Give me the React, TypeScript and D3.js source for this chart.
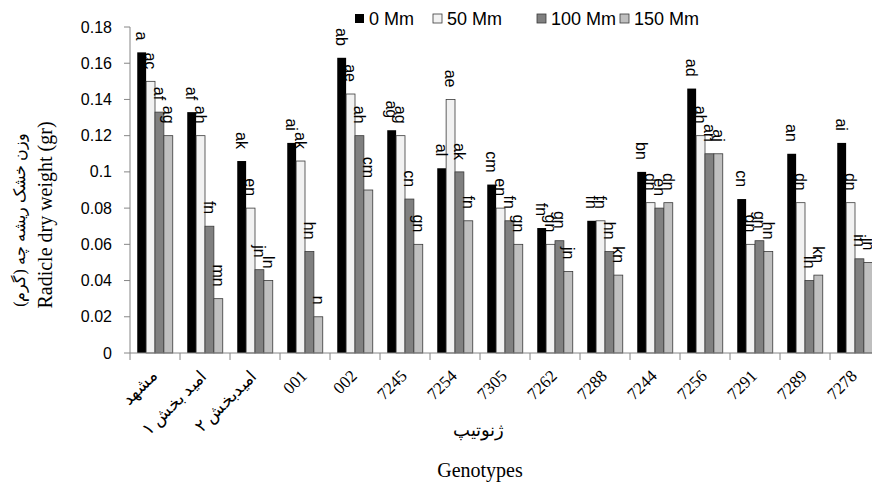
import React, { useEffect, useRef } from 'react';
import * as d3 from 'd3';

// genotypes on the x axis (left to right)
const genotypes = ['مشهد', 'امید بخش ۱', 'امیدبخش ۲', '001', '002', '7245', '7254', '7305', '7262', '7288', '7244', '7256', '7291', '7289', '7278'];
const seriesNames = ['0 Mm', '50 Mm', '100 Mm', '150 Mm'];

// radicle dry weight (gr), one array per salt level
const mm0 = [0.166, 0.133, 0.106, 0.116, 0.163, 0.123, 0.102, 0.093, 0.069, 0.073, 0.100, 0.146, 0.085, 0.110, 0.116];
const mm50 = [0.150, 0.120, 0.080, 0.106, 0.143, 0.120, 0.140, 0.080, 0.060, 0.073, 0.083, 0.120, 0.060, 0.083, 0.083];
const mm100 = [0.133, 0.070, 0.046, 0.056, 0.120, 0.085, 0.100, 0.073, 0.062, 0.056, 0.080, 0.110, 0.062, 0.040, 0.052];
const mm150 = [0.120, 0.030, 0.040, 0.020, 0.090, 0.060, 0.073, 0.060, 0.045, 0.043, 0.083, 0.110, 0.056, 0.043, 0.050];

// mean comparison letters
const let0 = ['a', 'af', 'ak', 'ai', 'ab', 'ag', 'al', 'cm', 'fn', 'fn', 'bn', 'ad', 'cn', 'an', 'ai'];
const let50 = ['ac', 'ah', 'en', 'ak', 'ae', 'ag', 'ae', 'en', 'gn', 'fn', 'dn', 'ah', 'gn', 'dn', 'dn'];
const let100 = ['af', 'fn', 'jn', 'hn', 'ah', 'cn', 'ak', 'fn', 'gn', 'hn', 'en', 'an', 'gn', 'ln', 'in'];
const let150 = ['ag', 'mn', 'ln', 'n', 'cm', 'gn', 'fn', 'gn', 'jn', 'kn', 'dn', 'aj', 'hn', 'kn', 'jn'];

const yTicks = [0, 0.02, 0.04, 0.06, 0.08, 0.1, 0.12, 0.14, 0.16, 0.18];
const yTickLabels = ['0', '0.02', '0.04', '0.06', '0.08', '0.1', '0.12', '0.14', '0.16', '0.18'];

const fills = ['#000000', '#f2f2f2', '#808080', '#bfbfbf'];
const W = 872, H = 483;
const sans = '"Liberation Sans", Arial, sans-serif';
const serif = '"Liberation Serif", "Times New Roman", serif';

export default function App() {
    const ref = useRef<SVGSVGElement>(null);

    useEffect(() => {
        const svg = d3.select(ref.current);
        svg.selectAll('*').remove();

        const values = [mm0, mm50, mm100, mm150];
        const letters = [let0, let50, let100, let150];

        // plot runs past the right edge, like the original (last group is cut off)
        const x = d3.scaleBand().domain(genotypes).range([130, 880]).paddingInner(0.29).paddingOuter(0.145);
        const xs = d3.scaleBand().domain(seriesNames).range([0, x.bandwidth()]);
        const y = d3.scaleLinear().domain([0, 0.18]).range([353, 27]);

        const axisColor = '#868686';

        // y axis
        svg.append('line').attr('x1', 130).attr('x2', 130).attr('y1', y(0.18)).attr('y2', y(0))
            .attr('stroke', axisColor);
        yTicks.forEach((t, i) => {
            svg.append('line').attr('x1', 124).attr('x2', 130).attr('y1', y(t)).attr('y2', y(t)).attr('stroke', axisColor);
            svg.append('text').attr('x', 112).attr('y', y(t)).attr('dy', '0.35em')
                .attr('text-anchor', 'end').style('font-family', sans).style('font-size', '16px')
                .attr('fill', '#000').text(yTickLabels[i]);
        });

        // bars
        genotypes.forEach((g, gi) => {
            const grp = svg.append('g').attr('transform', `translate(${x(g)},0)`);
            seriesNames.forEach((s, si) => {
                const v = values[si][gi];
                grp.append('rect')
                    .attr('x', xs(s)!).attr('width', xs.bandwidth())
                    .attr('y', y(v)).attr('height', y(0) - y(v))
                    .attr('fill', fills[si])
                    .attr('stroke', si === 0 ? 'none' : '#3a3a3a')
                    .attr('stroke-width', 0.8);
            });
            seriesNames.forEach((s, si) => {
                const v = values[si][gi];
                const cx = xs(s)! + xs.bandwidth() / 2;
                const ty = y(v) - 12;
                grp.append('text')
                    .attr('transform', `translate(${cx},${ty}) rotate(90)`)
                    .attr('text-anchor', 'end').attr('dy', '0.35em')
                    .style('font-family', sans).style('font-size', '16px')
                    .text(letters[si][gi]);
            });
        });

        // x axis
        svg.append('line').attr('x1', 130).attr('x2', W).attr('y1', y(0)).attr('y2', y(0)).attr('stroke', axisColor);
        genotypes.forEach((g) => {
            const bx = x(g)! - x.step() * x.paddingInner() / 2;
            svg.append('line').attr('x1', bx).attr('x2', bx).attr('y1', y(0)).attr('y2', y(0) + 7).attr('stroke', axisColor);
            const cx = x(g)! + x.bandwidth() / 2;
            svg.append('text')
                .attr('transform', `translate(${cx + 3},377) rotate(-45)`)
                .attr('text-anchor', 'end')
                .style('font-family', serif).style('font-size', '17px')
                .text(g);
        });

        // axis titles
        svg.append('text').attr('transform', 'translate(52,215) rotate(-90)')
            .attr('text-anchor', 'middle').style('font-family', serif).style('font-size', '20px')
            .text('Radicle dry weight (gr)');
        svg.append('text').attr('transform', 'translate(25,220) rotate(-90)')
            .attr('text-anchor', 'middle').style('font-family', serif).style('font-size', '16px')
            .text('وزن خشک ریشه چه (گرم)');
        svg.append('text').attr('x', 478).attr('y', 436)
            .attr('text-anchor', 'middle').style('font-family', serif).style('font-size', '18px')
            .text('ژنوتیپ');
        svg.append('text').attr('x', 480).attr('y', 477)
            .attr('text-anchor', 'middle').style('font-family', serif).style('font-size', '20px')
            .text('Genotypes');

        // legend
        const legendX = [355, 433, 537, 620];
        seriesNames.forEach((s, i) => {
            svg.append('rect').attr('x', legendX[i]).attr('y', 14).attr('width', 9).attr('height', 9)
                .attr('fill', fills[i]).attr('stroke', i === 0 ? 'none' : '#3a3a3a').attr('stroke-width', 0.8);
            svg.append('text').attr('x', legendX[i] + 14).attr('y', 24.5)
                .style('font-family', sans).style('font-size', '18px').text(s);
        });
    }, []);

    return (
        <div style={{ position: 'absolute', left: 0, top: 0, width: W, height: H, overflow: 'hidden', background: '#fff' }}>
            <svg ref={ref} width={W} height={H} style={{ display: 'block' }} />
        </div>
    );
}
